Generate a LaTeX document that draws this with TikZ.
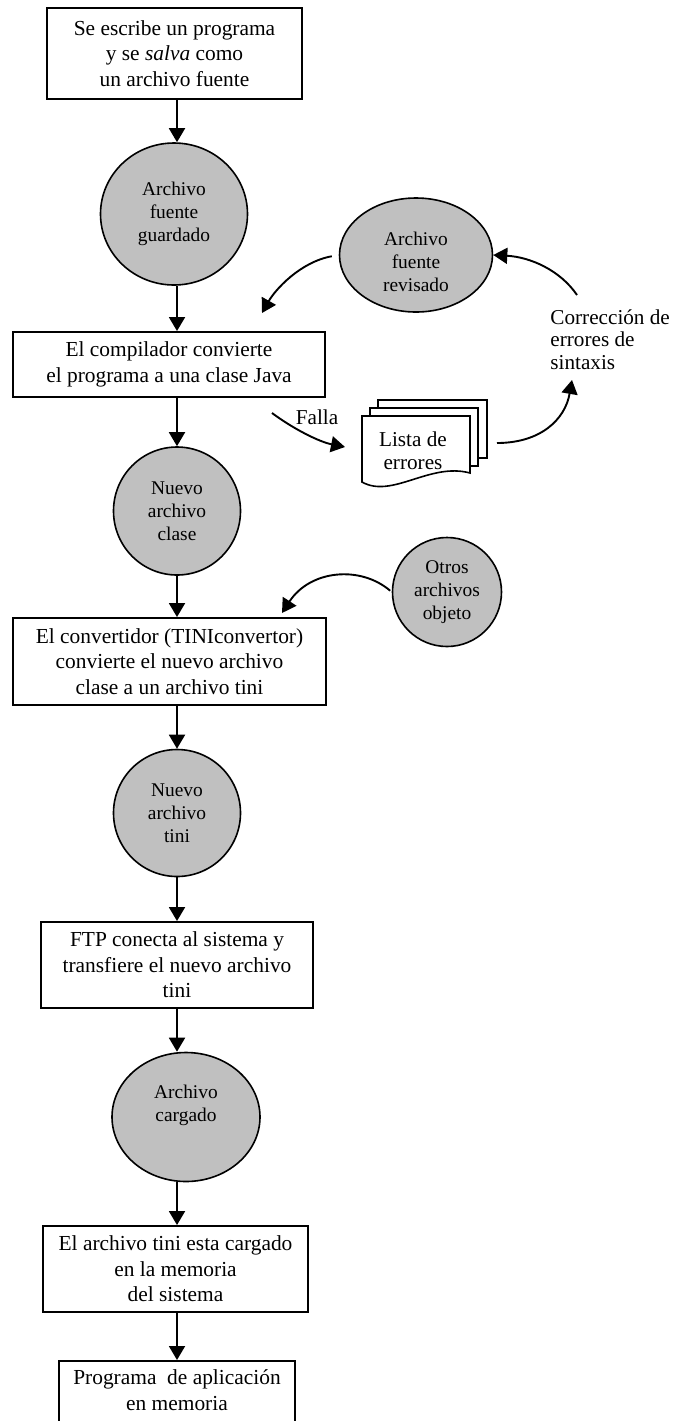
\documentclass[tikz,border=0pt]{standalone}
\usepackage{fontspec}
\setmainfont{Liberation Serif}
\usetikzlibrary{shapes.geometric,arrows.meta}
\definecolor{diskgray}{RGB}{192,192,192}

\begin{document}
\begin{tikzpicture}[x=0.5pt,y=-0.5pt,
  box/.style={draw, line width=0.95pt, align=center, inner sep=0pt,
    font=\fontsize{10.7}{12.75}\selectfont},
  disk/.style={draw, line width=0.8pt, fill=diskgray, ellipse, inner sep=0pt,
    align=center, font=\fontsize{9.7}{11.6}\selectfont},
  ctext/.style={align=center, inner sep=0pt, font=\fontsize{9.7}{11.6}\selectfont},
  lbl/.style={align=left, inner sep=0pt, font=\fontsize{10.6}{11.3}\selectfont},
  page/.style={draw, line width=0.8pt, fill=white},
  arr/.style={line width=0.95pt, -{Triangle[length=7pt,width=8pt]}}]
\useasboundingbox (0,0) rectangle (673,1421);

\coordinate (spine) at (177,0);

% main column
\node[box, minimum width=127.5pt, minimum height=45.5pt] (b1) at (174.5,53.5)
  {Se escribe un programa\\y se \textit{salva} como\\un archivo fuente};
\node[disk, minimum width=73.5pt, minimum height=71pt] (c1) at (174,214)
  {Archivo\\fuente\\guardado};
\node[box, minimum width=156pt, minimum height=32.5pt] (b2) at (169,364.5)
  {El compilador convierte\\el programa a una clase Java};
\node[disk, minimum width=63.5pt, minimum height=64pt] (c2) at (177,511)
  {Nuevo\\archivo\\clase};
\node[box, minimum width=156.5pt, minimum height=43.5pt] (b3) at (169.5,661.5)
  {El convertidor (TINIconvertor)\\convierte el nuevo archivo\\clase a un archivo tini};
\node[disk, minimum width=63.5pt, minimum height=63.5pt] (c3) at (177,813)
  {Nuevo\\archivo\\tini};
\node[box, minimum width=136pt, minimum height=43pt] (b4) at (177,965)
  {FTP conecta al sistema y\\transfiere el nuevo archivo\\tini};
\node[disk, minimum width=74pt, minimum height=64.5pt] (c4) at (186,1117) {};
\node[ctext] (c4t) at (186,1105) {Archivo\\cargado};
\node[box, minimum width=132.5pt, minimum height=43pt] (b5) at (175.5,1269)
  {El archivo tini esta cargado\\en la memoria\\del sistema};
\node[box, minimum width=118pt, minimum height=42pt, anchor=north] (b6) at (177,1360)
  {Programa~ de aplicación\\en memoria\\~};

\foreach \a/\b in {b1/c1, c1/b2, b2/c2, c2/b3, b3/c3, c3/b4, b4/c4, c4/b5, b5/b6}
  \draw[arr] (\a.south -| spine) -- (\b.north -| spine);

% correction loop
\node[disk, minimum width=76.5pt, minimum height=57pt] (rev) at (416,255) {};
\node[ctext] (revt) at (416,262) {Archivo\\fuente\\revisado};
\node[lbl, anchor=north west] (corr) at (550,309) {Corrección de\\errores de\\sintaxis};
\node[lbl] (falla) at (317,417) {Falla};

% stacked pages of the error list
\draw[page] (378,400) rectangle (487,458);
\draw[page] (370,408) rectangle (478,466);
\draw[page] (362,482) -- (362,416) -- (470,416) -- (470,473)
  .. controls (430,462) and (392,499) .. (362,482) -- cycle;
\node[lbl, align=center] (lista) at (413,451) {Lista de\\errores};

\coordinate (t1) at (262,313);
\coordinate (s2) at (577,295);
\coordinate (s3) at (497,443);
\coordinate (t3) at (572,380);
\coordinate (s4) at (272,413);
\coordinate (t4) at (345,447);
\coordinate (t5) at (282,613);

\draw[arr, shorten <=3.5pt] (rev.west) .. controls (300,262) and (275,290) .. (t1);
\draw[arr] (s2) .. controls (560,270) and (530,257) .. (rev.east);
\draw[arr] (s3) .. controls (540,443) and (565,420) .. (t3);
\draw[arr] (s4) .. controls (295,430) and (320,442) .. (t4);

% other object files
\node[disk, minimum width=54.5pt, minimum height=54.5pt] (ot) at (447,592)
  {Otros\\archivos\\objeto};
\draw[arr, shorten <=1pt] (ot.west) .. controls (360,565) and (310,570) .. (t5);
\end{tikzpicture}
\end{document}
